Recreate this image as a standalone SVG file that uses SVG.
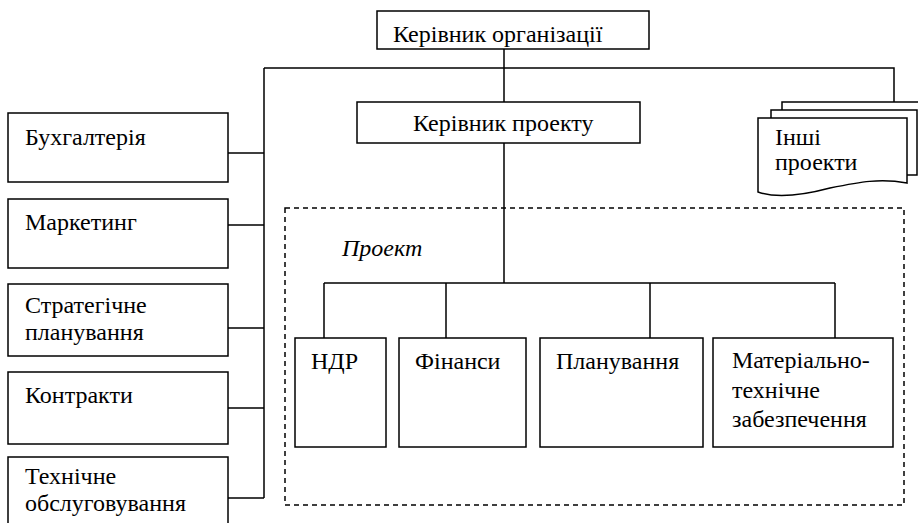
<svg xmlns="http://www.w3.org/2000/svg" width="918" height="523" viewBox="0 0 918 523">
<style>
.box{fill:#fff;stroke:#000;stroke-width:1.5}
.ln{fill:none;stroke:#000;stroke-width:1.5}
.t{font-family:'Liberation Serif','Times New Roman',serif;font-size:24px;fill:#000}
.it{font-style:italic}
.dash{fill:none;stroke:#000;stroke-width:1.5;stroke-dasharray:5,4}
</style>
<rect width="918" height="523" fill="#fff"/>
<g id="project-frame">
<rect class="dash" x="285" y="208" width="619" height="297"/>
<text class="t it" x="342" y="256">Проект</text>
</g>
<g id="connectors">
<path class="ln" d="M504,49 V102 M504,143 V283 M264,68 H894 V102 M264,68 V498"/>
<path class="ln" d="M228,153 H264 M228,225 H264 M228,328 H264 M228,408 H264 M228,498 H264"/>
<path class="ln" d="M324,283 H835 M324,283 V338 M446,283 V338 M650,283 V338 M835,283 V338"/>
</g>
<g id="head">
<rect class="box" x="377" y="11" width="272" height="38"/>
<text class="t" x="393" y="42">Керівник організації</text>
</g>
<g id="pm">
<rect class="box" x="357" y="102" width="283" height="41"/>
<text class="t" x="413" y="131">Керівник проекту</text>
</g>
<g id="other-projects">
<path class="ln" d="M782,110 V102 H925"/>
<path class="box" d="M771,118 V110 H917 V175 H907"/>
<path class="box" d="M758,118 H907 V183 C880,178 860,182 830,188 C800,196 775,198 758,192 Z"/>
<text class="t" x="775" y="145">Інші</text>
<text class="t" x="775" y="170">проекти</text>
</g>
<g id="buh">
<rect class="box" x="8" y="113" width="220" height="69"/>
<text class="t" x="25" y="145">Бухгалтерія</text>
</g>
<g id="marketing">
<rect class="box" x="8" y="199" width="220" height="69"/>
<text class="t" x="25" y="230">Маркетинг</text>
</g>
<g id="strategy">
<rect class="box" x="8" y="284" width="220" height="72"/>
<text class="t" x="25" y="313">Стратегічне</text>
<text class="t" x="25" y="340">планування</text>
</g>
<g id="contracts">
<rect class="box" x="8" y="372" width="220" height="72"/>
<text class="t" x="25" y="403">Контракти</text>
</g>
<g id="maintenance">
<rect class="box" x="8" y="457" width="220" height="80"/>
<text class="t" x="25" y="484">Технічне</text>
<text class="t" x="25" y="511">обслуговування</text>
</g>
<g id="ndr">
<rect class="box" x="295" y="338" width="91" height="109"/>
<text class="t" x="311" y="369">НДР</text>
</g>
<g id="finance">
<rect class="box" x="399" y="338" width="127" height="109"/>
<text class="t" x="415" y="369">Фінанси</text>
</g>
<g id="planning">
<rect class="box" x="540" y="338" width="163" height="109"/>
<text class="t" x="556" y="369">Планування</text>
</g>
<g id="logistics">
<rect class="box" x="713" y="338" width="180" height="109"/>
<text class="t" x="732" y="368">Матеріально-</text>
<text class="t" x="732" y="398">технічне</text>
<text class="t" x="732" y="427">забезпечення</text>
</g>
</svg>
